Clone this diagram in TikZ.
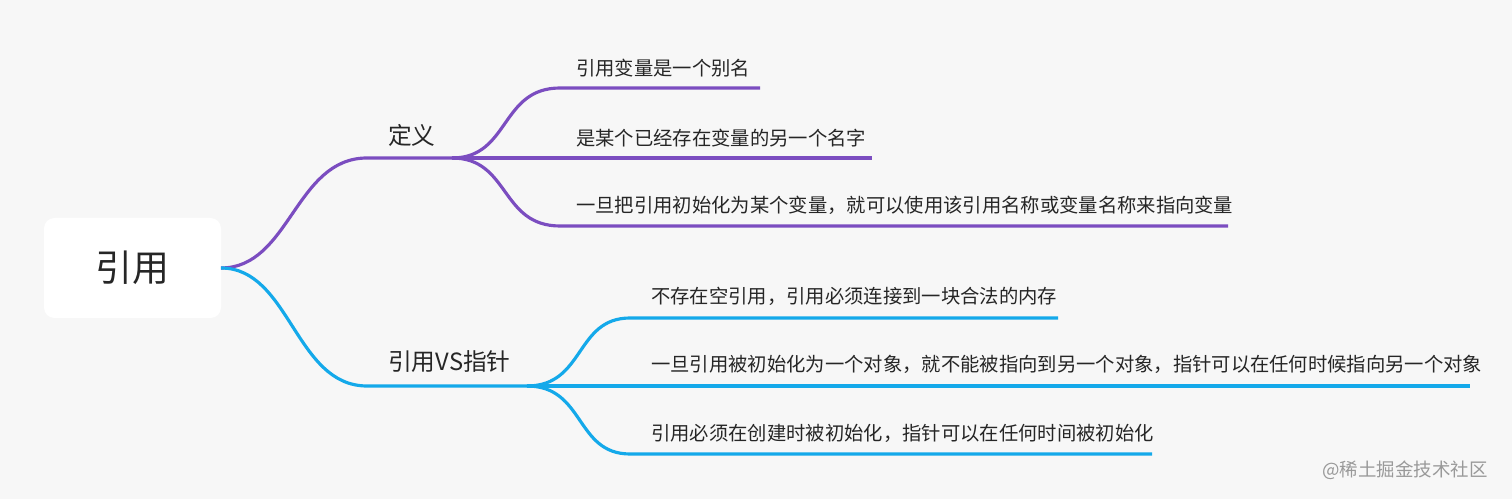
\documentclass[tikz,border=0pt]{standalone}
\usepackage{fontspec}
\newfontfamily\cjk{Noto Sans CJK SC}
\definecolor{pur}{HTML}{7B4DC0}
\definecolor{blu}{HTML}{14A9EA}
\definecolor{bg}{HTML}{F7F7F7}
\begin{document}
\begin{tikzpicture}[x=0.02cm,y=-0.02cm,
  leaf/.style={anchor=west,font=\cjk\fontsize{11}{13}\selectfont,text=black!85},
  mid/.style={anchor=west,font=\cjk\fontsize{13.5}{16}\selectfont,text=black!85},
  ln/.style={line width=1.8pt}]
\fill[bg] (0,0) rectangle (1512,499);
\useasboundingbox (0,0) rectangle (1512,499);
\fill[white,rounded corners=6pt] (44,218) rectangle (221,318);
\node[font=\cjk\fontsize{21}{24}\selectfont,text=black!85] (root) at (132,268) {引用};
\coordinate (r) at (221,268);
% purple
\coordinate (a0) at (367,158); \coordinate (a1) at (452,158);
\node[mid] (ta) at (382,135) {定义};
\draw[ln,pur] (r) .. controls (290,268) and (295,158) .. (a0) -- (a1);
\coordinate (p1) at (560,88); \coordinate (p1e) at (760,88);
\coordinate (p2) at (560,158); \coordinate (p2e) at (872,158);
\coordinate (p3) at (560,226); \coordinate (p3e) at (1228,226);
\draw[ln,pur] (a1) .. controls (510,158) and (500,88) .. (p1) -- (p1e);
\draw[ln,pur] (a1) -- (p2e);
\draw[ln,pur] (a1) .. controls (510,158) and (500,226) .. (p3) -- (p3e);
\node[leaf] (t1) at (570,68) {引用变量是一个别名};
\node[leaf] (t2) at (570,138) {是某个已经存在变量的另一个名字};
\node[leaf] (t3) at (570,205) {一旦把引用初始化为某个变量，就可以使用该引用名称或变量名称来指向变量};
% blue
\coordinate (b0) at (367,386); \coordinate (b1) at (527,386);
\node[mid] (tb) at (382,362) {引用VS指针};
\draw[ln,blu] (r) .. controls (290,268) and (295,386) .. (b0) -- (b1);
\coordinate (q1) at (630,318); \coordinate (q1e) at (1058,318);
\coordinate (q2e) at (1470,386);
\coordinate (q3) at (630,454); \coordinate (q3e) at (1152,454);
\draw[ln,blu] (b1) .. controls (585,386) and (575,318) .. (q1) -- (q1e);
\draw[ln,blu] (b1) -- (q2e);
\draw[ln,blu] (b1) .. controls (585,386) and (575,454) .. (q3) -- (q3e);
\node[leaf] (u1) at (645,296) {不存在空引用，引用必须连接到一块合法的内存};
\node[leaf] (u2) at (645,364) {一旦引用被初始化为一个对象，就不能被指向到另一个对象，指针可以在任何时候指向另一个对象};
\node[leaf] (u3) at (645,433) {引用必须在创建时被初始化，指针可以在任何时间被初始化};
\node[font=\cjk\fontsize{10.5}{12}\selectfont,text=black!40] (wm) at (1405,470) {@稀土掘金技术社区};
\end{tikzpicture}
\end{document}
